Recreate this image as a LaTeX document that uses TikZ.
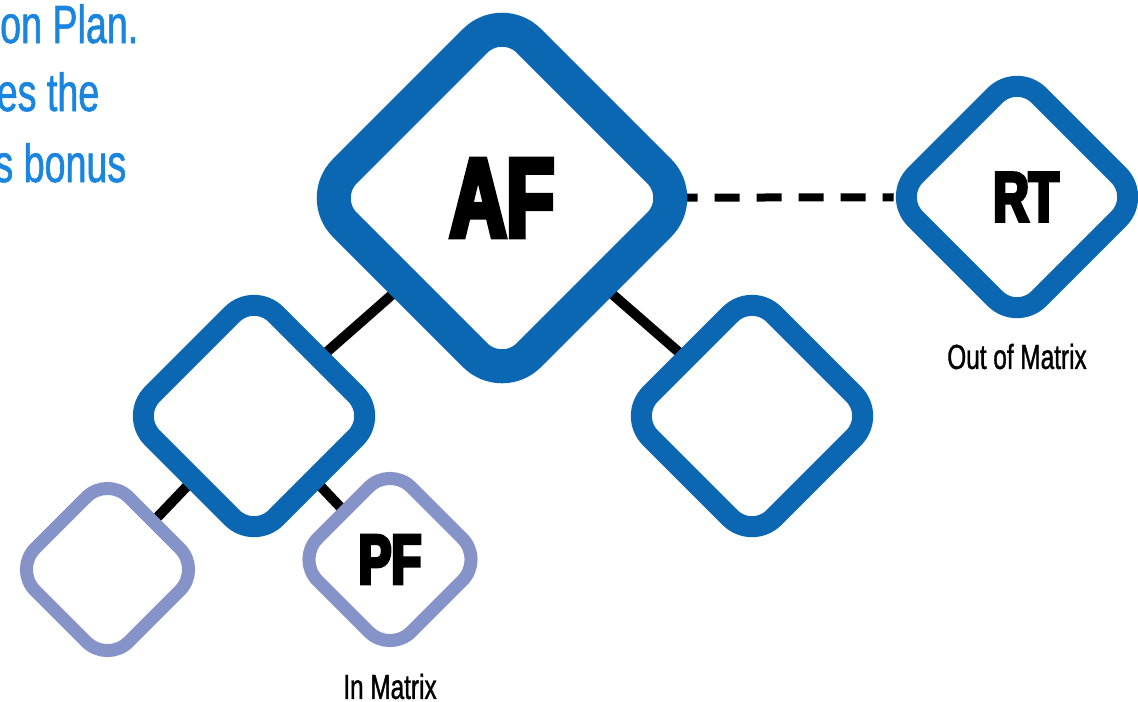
\documentclass[tikz,border=0pt]{standalone}
\usepackage{fontspec}
\setmainfont{Liberation Sans}
\newfontfamily\narrowfont[FakeStretch=0.70,FakeBold=1]{Liberation Sans}
\newfontfamily\heavyfont[FakeStretch=0.70,FakeBold=5]{Liberation Sans}
\usepackage{xcolor}
\definecolor{colorNode}{HTML}{0B67B1}
\definecolor{colorLeaf}{HTML}{8593C9}
\definecolor{colorBlurb}{HTML}{1A85DF}
\usepackage{tikz}
\usetikzlibrary{shapes.geometric, positioning, backgrounds}
\tikzset{
  block/.style={diamond, draw=colorNode, fill=white, inner sep=0pt, outer sep=0pt,
    rounded corners=0.31cm, line width=0.21cm, minimum width=2.47cm, minimum height=2.47cm},
  topblock/.style={block, rounded corners=0.38cm, line width=0.34cm,
    minimum width=3.68cm, minimum height=3.68cm},
  leaf/.style={block, draw=colorLeaf, rounded corners=0.30cm, line width=0.13cm,
    minimum width=1.87cm, minimum height=1.87cm},
  blurb/.style={anchor=base east, inner sep=0pt, text=colorBlurb,
    font=\narrowfont\fontsize{15.3}{17}\selectfont},
  caption/.style={inner sep=0pt, font=\narrowfont\fontsize{9.9}{11}\selectfont}
}

\begin{document}
\begin{tikzpicture}[link/.style={line width=0.1cm, black}]
\useasboundingbox (0,0) rectangle (11.38,-7.01);
% text cut by the left edge
\node[blurb] (b1) at (1.39,-0.43) {on Plan.};
\node[blurb] (b2) at (1.00,-1.11) {es the};
\node[blurb] (b3) at (1.27,-1.82) {s bonus};
% diamonds
\node[topblock] (af) at (5.02,-1.98) {\heavyfont\bfseries\fontsize{31.8}{32}\selectfont\raisebox{-0.05cm}{AF}};
\node[block] (q1) at (2.54,-4.16) {};
\node[block] (q2) at (7.52,-4.16) {};
\node[block] (rt) at (10.17,-1.97) {\heavyfont\bfseries\fontsize{19.9}{20}\selectfont\hspace*{0.18cm}RT};
\node[leaf] (q3) at (1.075,-5.695) {};
\node[leaf] (pf) at (3.90,-5.595) {\heavyfont\bfseries\fontsize{19.9}{20}\selectfont PF};
\node[caption, below=0.225cm of rt] (c1) {Out of Matrix};
\node[caption, below=0.2cm of pf] (c2) {In Matrix};
% connectors
\begin{scope}[on background layer]
\draw[link] (af) -- (q1);
\draw[link] (af) -- (q2);
\draw[link] (q1) -- (q3);
\draw[link] (q1) -- (pf);
\draw[link, line width=0.08cm, dash pattern=on 0.25cm off 0.17cm, dash phase=0.13cm] (af) -- (rt);
\end{scope}
\end{tikzpicture}
\end{document}
